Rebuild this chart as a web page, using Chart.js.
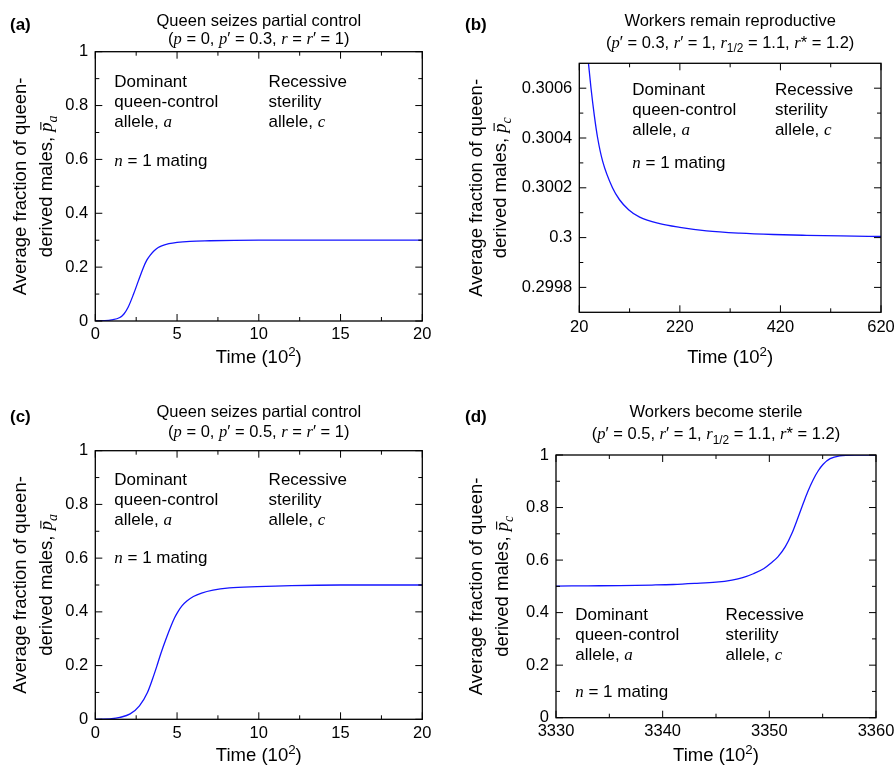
<!DOCTYPE html>
<html>
<head>
<meta charset="utf-8">
<script src="https://cdn.jsdelivr.net/npm/chart.js@4.4.1/dist/chart.umd.min.js"></script>
<style>
  html, body { margin: 0; padding: 0; background: #fff; overflow: hidden; }
  .stage { position: relative; width: 895px; height: 765px; }
  .stage canvas { position: absolute; left: 0; top: 0; }
</style>
</head>
<body>
<div class="stage">
  <canvas id="chartA" width="895" height="765"></canvas>
  <canvas id="chartB" width="895" height="765"></canvas>
  <canvas id="chartC" width="895" height="765"></canvas>
  <canvas id="chartD" width="895" height="765"></canvas>
</div>
<script>
const SANS = '"Liberation Sans", Arial, Helvetica, sans-serif';
const SERIF = '"Liberation Serif", "Times New Roman", serif';

// (a) queen seizes partial control, p' = 0.3
const timeA = [0, 0.5, 1, 1.5, 1.75, 2, 2.34, 2.64, 2.95, 3.15, 3.35, 3.6, 3.85, 4.1, 4.5, 5, 5.8, 7, 8.5, 10, 15, 20];
const fracA = [0, 0.001, 0.004, 0.013, 0.026, 0.05, 0.1, 0.15, 0.2, 0.226, 0.244, 0.261, 0.273, 0.28, 0.287, 0.292,
  0.296, 0.298, 0.2995, 0.3, 0.3, 0.3];

// (b) workers remain reproductive
const timeB = [38, 43.3, 49.9, 56.5, 66.5, 86, 100, 118, 140, 180, 220, 273, 339, 406, 472, 540, 620];
const fracB = [0.300705, 0.3006, 0.30049, 0.3004, 0.300306, 0.3002, 0.300152, 0.300112, 0.300082, 0.3000557,
  0.300041, 0.3000272, 0.300018, 0.3000125, 0.3000092, 0.3000067, 0.3000045];

// (c) queen seizes partial control, p' = 0.5
const timeC = [0, 1, 1.5, 2.13, 2.7, 3.19, 3.5, 3.76, 4.02, 4.33, 4.65, 4.85, 5.05, 5.3, 5.6, 6, 6.5, 7.2, 8.2, 9.9, 12, 15, 20];
const fracC = [0, 0.002, 0.007, 0.02, 0.05, 0.1, 0.15, 0.197, 0.247, 0.3, 0.35, 0.378, 0.4, 0.422, 0.44, 0.457, 0.47,
  0.481, 0.489, 0.494, 0.498, 0.5, 0.5];

// (d) workers become sterile
const timeD = [3330, 3333, 3336, 3339, 3341, 3343, 3345, 3346.5, 3347.5, 3348.5, 3349.5, 3350.2, 3350.8, 3351.5,
  3352.1, 3352.7, 3353.2, 3353.6, 3354.1, 3354.6, 3355.05, 3355.7, 3356.6, 3358, 3360];
const fracD = [0.501, 0.502, 0.503, 0.505, 0.507, 0.511, 0.516, 0.524, 0.533, 0.548, 0.568, 0.59, 0.612, 0.651,
  0.7, 0.763, 0.818, 0.86, 0.905, 0.941, 0.965, 0.986, 0.997, 1.0, 1.0];

// ticks (all ticks, and the ones that get a label)
const xTicksShort = [0, 2.5, 5, 7.5, 10, 12.5, 15, 17.5, 20];
const xLabelsShort = [0, 5, 10, 15, 20];
const xTicksB = [20, 120, 220, 320, 420, 520, 620];
const xLabelsB = [20, 220, 420, 620];
const xTicksD = [3330, 3335, 3340, 3345, 3350, 3355, 3360];
const xLabelsD = [3330, 3340, 3350, 3360];
const yTicksFrac = [0, 0.1, 0.2, 0.3, 0.4, 0.5, 0.6, 0.7, 0.8, 0.9, 1];
const yLabelsFrac = [0, 0.2, 0.4, 0.6, 0.8, 1];
const yTicksB = [0.2998, 0.2999, 0.3, 0.3001, 0.3002, 0.3003, 0.3004, 0.3005, 0.3006];
const yLabelsB = [0.2998, 0.3, 0.3002, 0.3004, 0.3006];

const dominant = [[['Dominant', '']], [['queen-control', '']], [['allele, ', ''], ['a', 'i']]];
const recessive = [[['Recessive', '']], [['sterility', '']], [['allele, ', ''], ['c', 'i']]];
const mating = [[['n', 'i'], [' = 1 mating', '']]];

function fontFor(style, size) {
  switch (style) {
    case 'i': case 'bar': return `italic ${size}px ${SERIF}`;
    case 'b': return `bold ${size}px ${SANS}`;
    case 'sub': case 'sup': return `${size * 0.72}px ${SANS}`;
    case 'isub': return `italic ${size * 0.75}px ${SERIF}`;
    default: return `${size}px ${SANS}`;
  }
}

// draws a line of text made of styled runs; y is the baseline
function drawRich(ctx, runs, x, y, size, align) {
  const widths = runs.map(([t, s]) => {
    ctx.font = fontFor(s, size);
    return ctx.measureText(t).width;
  });
  const total = widths.reduce((a, b) => a + b, 0);
  let cx = align === 'center' ? x - total / 2 : x;
  ctx.textAlign = 'left';
  ctx.textBaseline = 'alphabetic';
  runs.forEach(([t, s], i) => {
    ctx.font = fontFor(s, size);
    let dy = 0;
    if (s === 'sub' || s === 'isub') dy = size * 0.28;
    if (s === 'sup') dy = -size * 0.4;
    ctx.fillText(t, cx, y + dy);
    if (s === 'bar') {
      ctx.save();
      ctx.lineWidth = size * 0.06;
      ctx.beginPath();
      ctx.moveTo(cx + widths[i] * 0.2, y - size * 0.62);
      ctx.lineTo(cx + widths[i] * 1.05, y - size * 0.62);
      ctx.stroke();
      ctx.restore();
    }
    cx += widths[i];
  });
}

function panelPlugin(p) {
  return {
    id: 'panel' + p.key,
    afterDraw(chart) {
      const { ctx, chartArea: a, scales: { x, y } } = chart;
      const mid = (a.left + a.right) / 2;
      ctx.save();
      ctx.strokeStyle = '#000';
      ctx.fillStyle = '#000';

      ctx.lineWidth = 1;
      ctx.beginPath();
      x.ticks.forEach((t) => {
        const px = x.getPixelForValue(t.value);
        const len = t.label !== '' ? 7 : 4;
        ctx.moveTo(px, a.bottom);
        ctx.lineTo(px, a.bottom - len);
        ctx.moveTo(px, a.top);
        ctx.lineTo(px, a.top + len);
      });
      y.ticks.forEach((t) => {
        const py = y.getPixelForValue(t.value);
        const len = t.label !== '' ? 7 : 4;
        ctx.moveTo(a.left, py);
        ctx.lineTo(a.left + len, py);
        ctx.moveTo(a.right, py);
        ctx.lineTo(a.right - len, py);
      });
      ctx.stroke();
      ctx.lineWidth = 1.3;
      ctx.strokeRect(a.left, a.top, a.right - a.left, a.bottom - a.top);

      drawRich(ctx, [[p.tag, 'b']], p.tagPos[0], p.tagPos[1], 17, 'left');
      drawRich(ctx, [[p.title, '']], mid, p.titleBase[0], 16.5, 'center');
      drawRich(ctx, p.params, mid, p.titleBase[1], 16.5, 'center');
      drawRich(ctx, [['Time (10', ''], ['2', 'sup'], [')', '']], mid, p.xTitleBase, 18.5, 'center');

      const cy = (a.top + a.bottom) / 2;
      [[['Average fraction of queen-', '']],
       [['derived males, ', ''], ['p', 'bar'], [p.allele, 'isub']]].forEach((runs, i) => {
        ctx.save();
        ctx.translate(a.left + p.yTitleOff[i], cy);
        ctx.rotate(-Math.PI / 2);
        drawRich(ctx, runs, 0, 0, 18.5, 'center');
        ctx.restore();
      });

      p.notes.forEach((n) => {
        const nx = x.getPixelForValue(n.x);
        const ny = y.getPixelForValue(n.y);
        n.lines.forEach((runs, i) => drawRich(ctx, runs, nx, ny + i * 20, 17, 'left'));
      });
      ctx.restore();
    },
  };
}

const Y_W = 60;
const X_H = 40;

function labelFor(majors) {
  return (v) => (majors.some((m) => Math.abs(m - v) < 1e-9) ? String(+Number(v).toFixed(4)) : '');
}

function makeChart(id, p) {
  const tickFont = { family: SANS, size: 16.5 };
  return new Chart(document.getElementById(id), {
    type: 'scatter',
    data: {
      datasets: [{
        data: p.times.map((t, i) => ({ x: t, y: p.values[i] })),
        showLine: true,
        borderColor: 'rgb(20,20,255)',
        borderWidth: 1.3,
        pointRadius: 0,
        cubicInterpolationMode: 'monotone',
        fill: false,
      }],
    },
    options: {
      responsive: false,
      animation: false,
      events: [],
      layout: {
        padding: {
          left: p.area.left - Y_W,
          top: p.area.top,
          right: 895 - p.area.right,
          bottom: 765 - p.area.bottom - X_H,
        },
      },
      plugins: { legend: { display: false }, tooltip: { enabled: false } },
      scales: {
        x: {
          type: 'linear',
          min: p.xTicks[0],
          max: p.xTicks[p.xTicks.length - 1],
          afterBuildTicks: (s) => { s.ticks = p.xTicks.map((v) => ({ value: v })); },
          afterFit: (s) => { s.height = X_H; s.paddingLeft = 0; s.paddingRight = 0; },
          grid: { display: false, drawTicks: false },
          border: { display: false },
          ticks: {
            autoSkip: false, maxRotation: 0, padding: p.xPad, color: '#000', font: tickFont,
            callback: labelFor(p.xLabels),
          },
        },
        y: {
          type: 'linear',
          min: p.yRange[0],
          max: p.yRange[1],
          afterBuildTicks: (s) => { s.ticks = p.yTicks.map((v) => ({ value: v })); },
          afterFit: (s) => { s.width = Y_W; s.paddingTop = 0; s.paddingBottom = 0; },
          grid: { display: false, drawTicks: false },
          border: { display: false },
          ticks: {
            autoSkip: false, padding: 7, color: '#000', font: tickFont,
            callback: labelFor(p.yLabels),
          },
        },
      },
    },
    plugins: [panelPlugin(p)],
  });
}

makeChart('chartA', {
  key: 'a', tag: '(a)', times: timeA, values: fracA,
  xTicks: xTicksShort, xLabels: xLabelsShort, yTicks: yTicksFrac, yLabels: yLabelsFrac, yRange: [0, 1],
  area: { left: 95.3, top: 51.7, right: 422.3, bottom: 321 },
  xPad: 4, tagPos: [10, 29.5], titleBase: [25.7, 44], xTitleBase: 363.3, yTitleOff: [-69.2, -43],
  title: 'Queen seizes partial control',
  params: [['(', ''], ['p', 'i'], [' = 0, ', ''], ['p', 'i'], ['′ = 0.3, ', ''], ['r', 'i'], [' = ', ''], ['r', 'i'], ['′ = 1)', '']],
  allele: 'a',
  notes: [
    { x: 1.16, y: 0.87, lines: dominant },
    { x: 10.6, y: 0.87, lines: recessive },
    { x: 1.16, y: 0.577, lines: mating },
  ],
});

makeChart('chartB', {
  key: 'b', tag: '(b)', times: timeB, values: fracB,
  xTicks: xTicksB, xLabels: xLabelsB, yTicks: yTicksB, yLabels: yLabelsB, yRange: [0.2997, 0.3007],
  area: { left: 579.3, top: 63.3, right: 881, bottom: 312.3 },
  xPad: 5, tagPos: [465, 30], titleBase: [25.7, 47.7], xTitleBase: 363.3, yTitleOff: [-97.8, -73.7],
  title: 'Workers remain reproductive',
  params: [['(', ''], ['p', 'i'], ['′ = 0.3, ', ''], ['r', 'i'], ['′ = 1, ', ''], ['r', 'i'], ['1/2', 'sub'],
    [' = 1.1, ', ''], ['r', 'i'], ['* = 1.2)', '']],
  allele: 'c',
  notes: [
    { x: 125.4, y: 0.300571, lines: dominant },
    { x: 409, y: 0.300571, lines: recessive },
    { x: 125.4, y: 0.30028, lines: mating },
  ],
});

makeChart('chartC', {
  key: 'c', tag: '(c)', times: timeC, values: fracC,
  xTicks: xTicksShort, xLabels: xLabelsShort, yTicks: yTicksFrac, yLabels: yLabelsFrac, yRange: [0, 1],
  area: { left: 95.3, top: 450.7, right: 422.3, bottom: 719.3 },
  xPad: 4, tagPos: [10, 421.7], titleBase: [417.3, 437.3], xTitleBase: 761, yTitleOff: [-69.2, -43],
  title: 'Queen seizes partial control',
  params: [['(', ''], ['p', 'i'], [' = 0, ', ''], ['p', 'i'], ['′ = 0.5, ', ''], ['r', 'i'], [' = ', ''], ['r', 'i'], ['′ = 1)', '']],
  allele: 'a',
  notes: [
    { x: 1.16, y: 0.872, lines: dominant },
    { x: 10.6, y: 0.872, lines: recessive },
    { x: 1.16, y: 0.581, lines: mating },
  ],
});

makeChart('chartD', {
  key: 'd', tag: '(d)', times: timeD, values: fracD,
  xTicks: xTicksD, xLabels: xLabelsD, yTicks: yTicksFrac, yLabels: yLabelsFrac, yRange: [0, 1],
  area: { left: 556, top: 455, right: 876, bottom: 717.7 },
  xPad: 4, tagPos: [465, 422.3], titleBase: [416.7, 439.3], xTitleBase: 761, yTitleOff: [-74.5, -47.9],
  title: 'Workers become sterile',
  params: [['(', ''], ['p', 'i'], ['′ = 0.5, ', ''], ['r', 'i'], ['′ = 1, ', ''], ['r', 'i'], ['1/2', 'sub'],
    [' = 1.1, ', ''], ['r', 'i'], ['* = 1.2)', '']],
  allele: 'c',
  notes: [
    { x: 3331.8, y: 0.372, lines: dominant },
    { x: 3345.9, y: 0.372, lines: recessive },
    { x: 3331.8, y: 0.08, lines: mating },
  ],
});
</script>
</body>
</html>
